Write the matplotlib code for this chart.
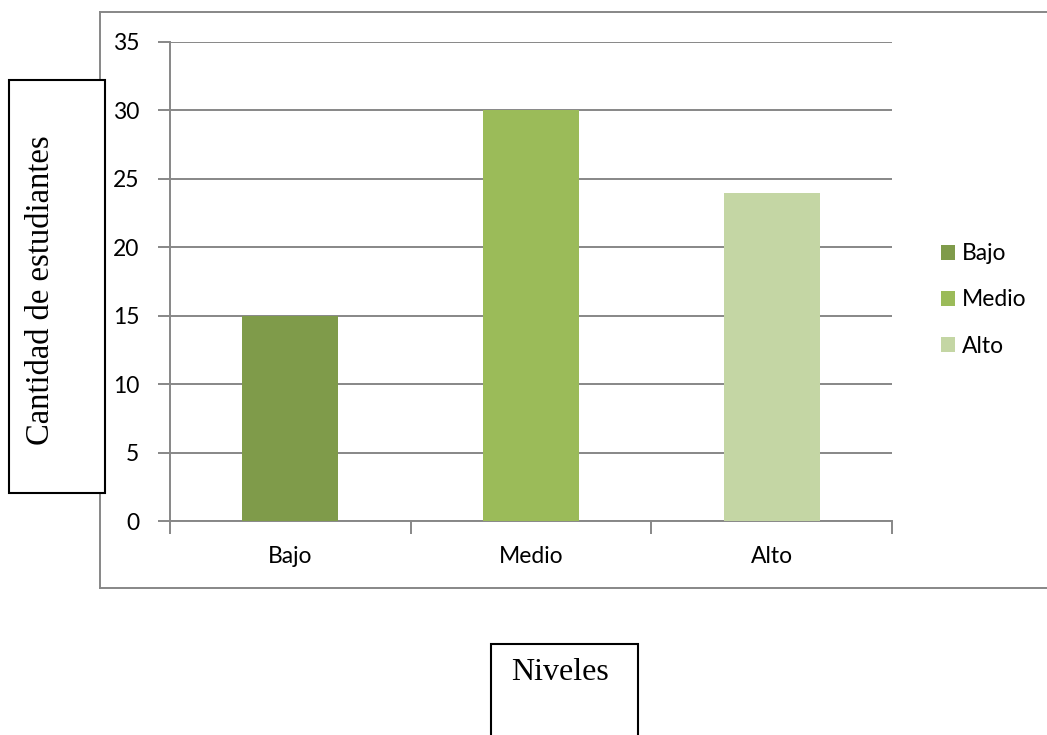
import matplotlib.pyplot as plt
from matplotlib.patches import Rectangle
from matplotlib.lines import Line2D

niveles = ["Bajo", "Medio", "Alto"]
cantidad = [15, 30, 24]
colores = ["#7F9B4A", "#9BBB59", "#C4D6A4"]
yticks = [0, 5, 10, 15, 20, 25, 30, 35]

W, H = 1047, 735
fig = plt.figure(figsize=(W / 100, H / 100), dpi=100)

def fx(px):
    return px / W

def fy(py):
    return 1 - py / H

gris = "#878787"

# outer chart border (right edge cut off in the original)
for xs, ys in [((100, 1047), (12, 12)), ((100, 100), (12, 588)), ((100, 1047), (588, 588))]:
    fig.add_artist(Line2D([fx(x) for x in xs], [fy(y) for y in ys], color=gris, lw=1.4))

ax = fig.add_axes([fx(170), fy(521), fx(892) - fx(170), fy(42) - fy(521)])
pos = list(range(len(niveles)))
bars = ax.bar(pos, cantidad, width=0.4, color=colores, label=niveles, zorder=3)

ax.set_xlim(-0.5, len(niveles) - 0.5)
ax.set_ylim(0, 35)
ax.set_yticks(yticks)
ax.yaxis.grid(True, color=gris, lw=1.4)
ax.set_axisbelow(True)
for s in ["top", "right"]:
    ax.spines[s].set_visible(False)
for s in ["left", "bottom"]:
    ax.spines[s].set_color(gris)
    ax.spines[s].set_linewidth(1.4)

ax.set_xticks([p - 0.5 for p in pos] + [pos[-1] + 0.5])
ax.set_xticklabels([])
ax.set_xticks(pos, minor=True)
ax.set_xticklabels(niveles, minor=True, fontsize=16.5, family="Lato")
ax.tick_params(axis="x", which="minor", length=0, pad=18)
ax.tick_params(axis="x", which="major", length=9, color=gris, width=1.4)
ax.tick_params(axis="y", length=9, color=gris, width=1.4, pad=13, labelsize=16.5)
for t in ax.get_yticklabels():
    t.set_family("Lato")

# legend
ax.legend(handles=bars, labels=niveles, loc="center left", frameon=False,
          prop={"family": "Lato", "size": 16.5}, handlelength=0.63, handleheight=0.63,
          handletextpad=0.3, labelspacing=1.1)
leg = ax.get_legend()
leg.set_bbox_to_anchor((fx(920), fy(300)), transform=fig.transFigure)

# boxed axis titles
fig.add_artist(Rectangle((fx(9), fy(493)), fx(105) - fx(9), fy(80) - fy(493),
                         transform=fig.transFigure, facecolor="white",
                         edgecolor="black", lw=1.5, zorder=5))
fig.text(fx(41), fy(290), "Cantidad de estudiantes", rotation=90, ha="center",
         va="center", family="Liberation Serif", fontsize=23.5, zorder=6)

fig.add_artist(Rectangle((fx(491), fy(760)), fx(638) - fx(491), fy(644) - fy(760),
                         transform=fig.transFigure, facecolor="white",
                         edgecolor="black", lw=1.5, zorder=5))
fig.text(fx(560), fy(673), "Niveles", ha="center", va="center",
         family="Liberation Serif", fontsize=23, zorder=6)

fig.savefig("out.png", dpi=100)
